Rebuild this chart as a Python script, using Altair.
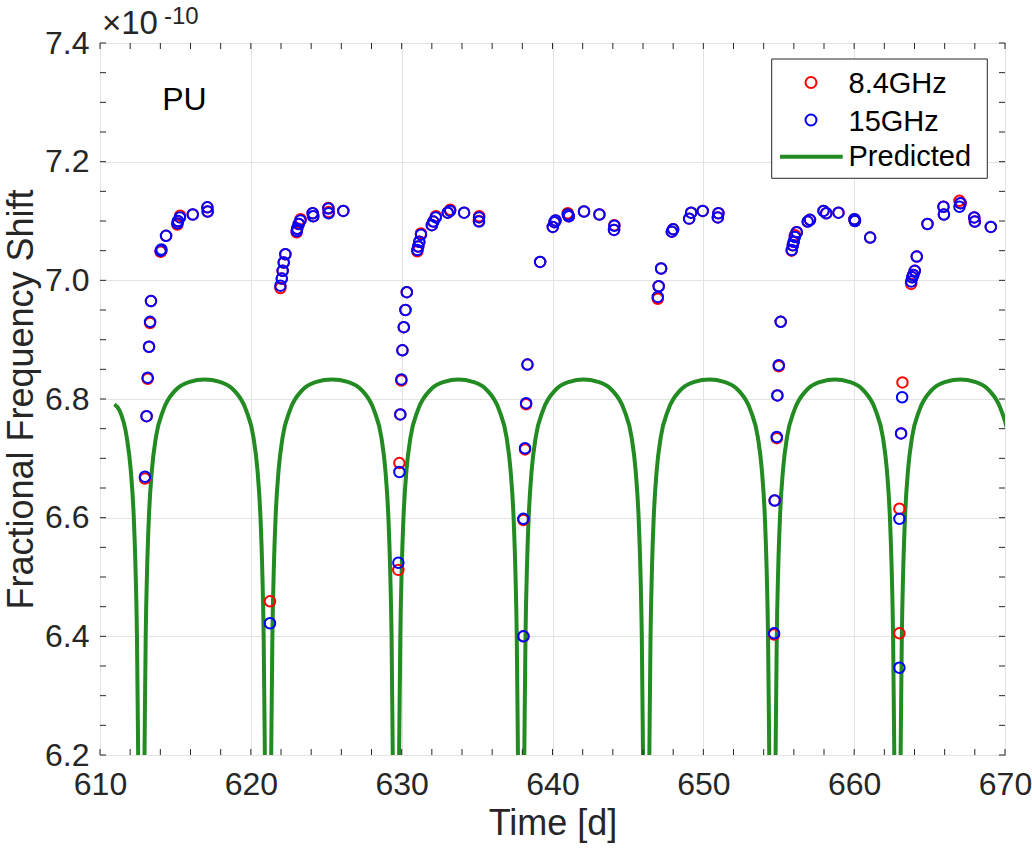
import altair as alt
import pandas as pd

FONT = "Liberation Sans"
INK = "#262626"

# ---- measured fractional frequency shift (units of 1e-10) vs time [d] ----
t_15 = [612.98, 613.09, 613.16, 613.25, 613.32, 613.38, 614.02, 614.07, 614.38, 615.13,
        615.17, 615.30, 616.15, 617.12, 617.14,
        621.27, 621.96, 622.05, 622.11, 622.18, 622.29, 623.04, 623.07, 623.18, 623.29,
        624.10, 624.14, 625.14, 625.16, 626.13,
        629.78, 629.85, 629.91, 629.98, 630.05, 630.14, 630.25, 630.34, 631.04, 631.10,
        631.17, 631.28, 632.00, 632.10, 632.26, 633.05, 633.21, 634.14, 635.13, 635.13,
        638.07, 638.07, 638.18, 638.25, 638.34, 639.18, 640.02, 640.13, 640.20, 641.01,
        641.08, 642.09, 643.11, 644.10, 644.08,
        646.98, 647.04, 647.20, 647.91, 648.00, 649.06, 649.19, 649.96, 650.96, 651.00,
        654.69, 654.73, 654.87, 654.91, 655.00, 655.13, 655.86, 655.93, 655.99, 656.07,
        656.19, 656.92, 657.07, 657.97, 658.15, 658.96, 660.02, 660.05, 661.06,
        663.00, 663.00, 663.11, 663.18, 663.78, 663.85, 663.92, 664.02, 664.15, 664.86,
        665.92, 665.95, 666.98, 667.05, 667.96, 668.00, 669.06]
v_15 = [6.669, 6.771, 6.836, 6.888, 6.930, 6.965, 7.050, 7.052, 7.075, 7.096,
        7.100, 7.106, 7.111, 7.123, 7.116,
        6.422, 6.991, 7.003, 7.016, 7.030, 7.044, 7.083, 7.087, 7.095, 7.101,
        7.113, 7.108, 7.121, 7.113, 7.117,
        6.524, 6.677, 6.774, 6.833, 6.882, 6.921, 6.950, 6.980, 7.051, 7.057,
        7.065, 7.077, 7.093, 7.099, 7.106, 7.114, 7.117, 7.114, 7.106, 7.099,
        6.400, 6.598, 6.717, 6.793, 6.858, 7.031, 7.090, 7.098, 7.101, 7.111,
        7.108, 7.116, 7.111, 7.092, 7.085,
        6.972, 6.990, 7.020, 7.082, 7.086, 7.104, 7.114, 7.117, 7.106, 7.113,
        6.405, 6.629, 6.736, 6.806, 6.857, 6.930, 7.051, 7.059, 7.065, 7.073,
        7.081, 7.099, 7.102, 7.117, 7.113, 7.114, 7.103, 7.100, 7.072,
        6.347, 6.598, 6.742, 6.803, 6.998, 7.005, 7.009, 7.016, 7.040, 7.095,
        7.124, 7.111, 7.124, 7.130, 7.106, 7.099, 7.090]

t_84 = [612.98, 613.09, 613.16, 613.25, 613.32, 613.38, 614.02, 614.07, 614.38, 615.13,
        615.17, 615.31, 616.15, 617.12, 617.14,
        621.27, 621.96, 622.05, 622.11, 622.18, 622.29, 623.04, 623.07, 623.18, 623.30,
        624.10, 624.14, 625.14, 625.16, 626.13,
        629.78, 629.85, 629.91, 629.98, 630.05, 630.14, 630.25, 630.34, 631.04, 631.10,
        631.17, 631.28, 632.00, 632.10, 632.27, 633.06, 633.22, 634.14, 635.14, 635.12,
        638.08, 638.07, 638.18, 638.25, 638.34, 639.18, 640.02, 640.13, 640.20, 641.01,
        641.08, 642.09, 643.11, 644.10, 644.08,
        646.98, 647.04, 647.20, 647.91, 648.00, 649.06, 649.19, 649.96, 650.96, 651.00,
        654.69, 654.73, 654.87, 654.91, 655.00, 655.13, 655.86, 655.93, 655.99, 656.07,
        656.19, 656.92, 657.07, 657.97, 658.15, 658.96, 660.02, 660.05, 661.06,
        663.00, 663.00, 663.11, 663.20, 663.78, 663.85, 663.92, 664.02, 664.15, 664.86,
        665.92, 665.95, 666.98, 667.05, 667.96, 668.00, 669.06]
v_84 = [6.666, 6.771, 6.834, 6.888, 6.928, 6.965, 7.048, 7.050, 7.075, 7.094,
        7.099, 7.109, 7.111, 7.123, 7.116,
        6.459, 6.987, 7.003, 7.016, 7.030, 7.044, 7.081, 7.087, 7.095, 7.103,
        7.113, 7.108, 7.122, 7.115, 7.117,
        6.512, 6.692, 6.774, 6.831, 6.882, 6.921, 6.950, 6.980, 7.049, 7.057,
        7.065, 7.079, 7.093, 7.099, 7.108, 7.114, 7.119, 7.114, 7.108, 7.100,
        6.400, 6.596, 6.715, 6.791, 6.858, 7.031, 7.090, 7.098, 7.101, 7.113,
        7.108, 7.116, 7.111, 7.093, 7.085,
        6.969, 6.990, 7.020, 7.082, 7.086, 7.104, 7.114, 7.117, 7.106, 7.113,
        6.403, 6.629, 6.734, 6.806, 6.855, 6.930, 7.050, 7.059, 7.065, 7.076,
        7.081, 7.099, 7.102, 7.117, 7.113, 7.114, 7.103, 7.100, 7.072,
        6.405, 6.615, 6.742, 6.828, 6.994, 7.005, 7.009, 7.016, 7.040, 7.095,
        7.124, 7.111, 7.134, 7.130, 7.106, 7.099, 7.090]

# ---- predicted curve: minimum epochs and the profile around a minimum ----
dip_times = [612.74, 621.14, 629.62, 637.92, 646.21, 654.58, 662.87, 671.20]
profile_offset = [0.00, 0.21, 0.29, 0.38, 0.50, 0.70, 0.97, 1.45, 2.27, 3.20]
profile_value = [5.60, 6.20, 6.40, 6.51, 6.60, 6.68, 6.736, 6.781, 6.815, 6.829]
peak_value = 6.833
curve_start_t, curve_start_v = 610.95, 6.791

x_major = [610, 620, 630, 640, 650, 660, 670]
y_major = [6.2, 6.4, 6.6, 6.8, 7.0, 7.2, 7.4]
x_minor = list(range(610, 671, 2))
y_minor = [round(6.2 + 0.05 * i, 2) for i in range(25)]

# assemble the predicted curve from the profile placed at every minimum
curve_t, curve_v = [curve_start_t], [curve_start_v]
first = dip_times[0]
for off, val in reversed(list(zip(profile_offset, profile_value))):
    if first - off > curve_start_t:
        curve_t.append(first - off)
        curve_v.append(val)
for a, b in zip(dip_times[:-1], dip_times[1:]):
    half = (b - a) / 2
    for off, val in zip(profile_offset, profile_value):
        if 0 < off < half:
            curve_t.append(a + off)
            curve_v.append(val)
    curve_t.append(a + half)
    curve_v.append(peak_value)
    for off, val in reversed(list(zip(profile_offset, profile_value))):
        if off < half:
            curve_t.append(b - off)
            curve_v.append(val)

pts84 = pd.DataFrame({"t": t_84, "v": v_84})
pts15 = pd.DataFrame({"t": t_15, "v": v_15})
curve = pd.DataFrame({"t": curve_t, "v": curve_v})

W, H = 905, 712
xs = alt.Scale(domain=[610, 670], nice=False, zero=False)
ys = alt.Scale(domain=[6.2, 7.4], nice=False, zero=False)

x_axis = alt.Axis(values=x_major, title="Time [d]", grid=True, gridColor="#e3e3e3",
                  ticks=False, domain=False, labelColor=INK, titleColor=INK,
                  labelFont=FONT, titleFont=FONT, labelFontSize=32, titleFontSize=36,
                  titleFontWeight="normal", labelPadding=14, titlePadding=6,
                  labelFlush=False)
y_axis = alt.Axis(values=y_major, format=".1f", title="Fractional Frequency Shift",
                  grid=True, gridColor="#e3e3e3", ticks=False, domain=False,
                  labelColor=INK, titleColor=INK, labelFont=FONT, titleFont=FONT,
                  labelFontSize=32, titleFontSize=36, titleFontWeight="normal",
                  labelPadding=11, titlePadding=4, labelFlush=False)

line = alt.Chart(curve).mark_line(
    color="#228B22", strokeWidth=4, interpolate="monotone", clip=True
).encode(
    x=alt.X("t:Q", scale=xs, axis=x_axis),
    y=alt.Y("v:Q", scale=ys, axis=y_axis),
)

red = alt.Chart(pts84).mark_point(
    shape="circle", filled=False, color="#FF0000", size=110, strokeWidth=2, opacity=1
).encode(x=alt.X("t:Q", scale=xs), y=alt.Y("v:Q", scale=ys))

blue = alt.Chart(pts15).mark_point(
    shape="circle", filled=False, color="#0000FF", size=110, strokeWidth=2, opacity=1
).encode(x=alt.X("t:Q", scale=xs), y=alt.Y("v:Q", scale=ys))

# inward tick marks along the four sides of the box
xt = pd.DataFrame({"t": x_minor})
yt = pd.DataFrame({"v": y_minor})
tick_kw = dict(color=INK, size=6, thickness=1, opacity=1)
ticks_bottom = alt.Chart(xt).mark_tick(orient="vertical", **tick_kw).encode(
    x=alt.X("t:Q", scale=xs), y=alt.value(H - 3))
ticks_top = alt.Chart(xt).mark_tick(orient="vertical", **tick_kw).encode(
    x=alt.X("t:Q", scale=xs), y=alt.value(3))
ticks_left = alt.Chart(yt).mark_tick(orient="horizontal", **tick_kw).encode(
    y=alt.Y("v:Q", scale=ys), x=alt.value(3))
ticks_right = alt.Chart(yt).mark_tick(orient="horizontal", **tick_kw).encode(
    y=alt.Y("v:Q", scale=ys), x=alt.value(W - 3))

label_pu = alt.Chart(pd.DataFrame({"t": [615.6], "v": [7.304], "txt": ["PU"]})).mark_text(
    font=FONT, fontSize=32, color="#000000", align="center", baseline="middle"
).encode(x=alt.X("t:Q", scale=xs), y=alt.Y("v:Q", scale=ys), text="txt:N")

# axis multiplier
one = pd.DataFrame({"k": [0]})
mult = alt.Chart(one).mark_text(
    font=FONT, fontSize=33, color=INK, align="left", baseline="alphabetic", text="×10"
).encode(x=alt.value(2), y=alt.value(-9))
mult_exp = alt.Chart(one).mark_text(
    font=FONT, fontSize=24, color=INK, align="left", baseline="alphabetic", text="-10"
).encode(x=alt.value(64), y=alt.value(-19))

# legend box
leg_box = alt.Chart(one).mark_rect(fill="white", stroke=INK, strokeWidth=1).encode(
    x=alt.value(671.7), x2=alt.value(887.3), y=alt.value(16), y2=alt.value(135.3))
leg_red = alt.Chart(one).mark_point(
    shape="circle", filled=False, color="#FF0000", size=120, strokeWidth=2, opacity=1
).encode(x=alt.value(711), y=alt.value(39.5))
leg_blue = alt.Chart(one).mark_point(
    shape="circle", filled=False, color="#0000FF", size=120, strokeWidth=2, opacity=1
).encode(x=alt.value(711), y=alt.value(77))
leg_line = alt.Chart(one).mark_rule(color="#228B22", strokeWidth=4).encode(
    x=alt.value(680), x2=alt.value(742.7), y=alt.value(113.7))
leg_txt = alt.Chart(pd.DataFrame({"txt": ["8.4GHz", "15GHz", "Predicted"],
                                  "yy": [40.5, 78.5, 114]})).mark_text(
    font=FONT, fontSize=29, color="#000000", align="left", baseline="middle"
).encode(x=alt.value(748.5), y=alt.Y("yy:Q", scale=None), text="txt:N")

chart = alt.layer(
    line, red, blue, ticks_bottom, ticks_top, ticks_left, ticks_right,
    label_pu, mult, mult_exp, leg_box, leg_red, leg_blue, leg_line, leg_txt,
).properties(
    width=W, height=H,
    autosize=alt.AutoSizeParams(type="none"),
    padding={"left": 100, "top": 43, "right": 27, "bottom": 98},
    background="white",
).configure_view(stroke=INK, strokeWidth=1)

chart.save("out.html", embed_options={"renderer": "svg", "actions": False})
